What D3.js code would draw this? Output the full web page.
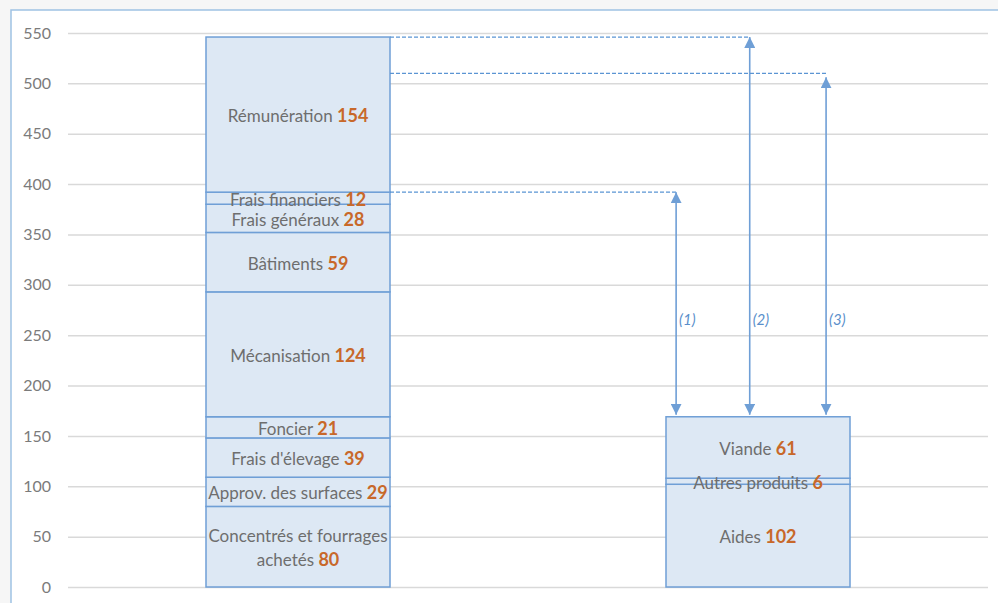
<!DOCTYPE html>
<html lang="fr">
<head>
<meta charset="utf-8">
<script src="https://cdn.jsdelivr.net/npm/d3@7"></script>
<style>
  html, body { margin: 0; padding: 0; background: #f6f6f6; }
  svg { display: block; }
  text { font-family: Lato, "Open Sans", sans-serif; }
</style>
</head>
<body>
<svg id="chart" width="998" height="603"></svg>
<script>
// Coûts de production (empilés, de bas en haut)
const chargeLabels = ["Concentrés et fourrages\nachetés", "Approv. des surfaces", "Frais d'élevage", "Foncier",
  "Mécanisation", "Bâtiments", "Frais généraux", "Frais financiers", "Rémunération"];
const chargeValues = [80, 29, 39, 21, 124, 59, 28, 12, 154];

// Produits (empilés, de bas en haut)
const produitLabels = ["Aides", "Autres produits", "Viande"];
const produitValues = [102, 6, 61];

const barNames = ["Coûts", "Produits"];
const yTicks = [0, 50, 100, 150, 200, 250, 300, 350, 400, 450, 500, 550];

// Écarts entre produits et niveaux de coût
const arrowLabels = ["(1)", "(2)", "(3)"];
const arrowTops = [392, 546, 510];

const svg = d3.select("#chart");
const W = 998, H = 603;
const margin = { top: 33, right: 10, bottom: 16, left: 68 };

const fillBar = "#dde8f4";
const strokeBar = "#6f9fd6";
const textGrey = "#6e6e6e";
const numOrange = "#c8682a";
const axisGrey = "#7b7b7b";

// cadre
svg.append("rect").attr("x", 11).attr("y", 10).attr("width", 1100).attr("height", 700)
  .attr("fill", "#ffffff").attr("stroke", "#9fc2e4").attr("stroke-width", 1.5);

const y = d3.scaleLinear().domain([0, 550]).range([H - margin.bottom, margin.top]);
const x = d3.scaleBand().domain(barNames).range([margin.left, W - margin.right])
  .paddingInner(0.6).paddingOuter(0.3);

// axe vertical + quadrillage
const yAxis = d3.axisLeft(y).tickValues(yTicks).tickFormat(d3.format("d"))
  .tickSize(-(W - margin.right - margin.left)).tickPadding(17);
const gAxis = svg.append("g").attr("transform", `translate(${margin.left},0)`).call(yAxis);
gAxis.select(".domain").remove();
gAxis.selectAll(".tick line").attr("stroke", "#d9d9d9").attr("stroke-width", 1.5);
gAxis.selectAll(".tick text").attr("fill", axisGrey).attr("font-size", 16)
  .attr("font-family", "Lato, 'Open Sans', sans-serif");

function stack(labels, values) {
  let acc = 0;
  return values.map((v, i) => {
    const d = { label: labels[i], value: v, y0: acc, y1: acc + v };
    acc += v;
    return d;
  });
}

const stacks = [stack(chargeLabels, chargeValues), stack(produitLabels, produitValues)];

stacks.forEach((segs, bi) => {
  const g = svg.append("g");
  const x0 = x(barNames[bi]);
  g.selectAll("rect").data(segs).join("rect")
    .attr("x", x0).attr("width", x.bandwidth())
    .attr("y", d => y(d.y1)).attr("height", d => y(d.y0) - y(d.y1))
    .attr("fill", fillBar).attr("stroke", strokeBar).attr("stroke-width", 1.5);

  g.selectAll("text").data(segs).join("text")
    .attr("text-anchor", "middle")
    .attr("font-size", 17)
    .each(function (d) {
      const lines = d.label.split("\n");
      const cy = (y(d.y0) + y(d.y1)) / 2;
      const lh = 24;
      const t = d3.select(this);
      lines.forEach((ln, li) => {
        const ty = cy + (li - (lines.length - 1) / 2) * lh;
        t.append("tspan").attr("x", x0 + x.bandwidth() / 2).attr("y", ty).attr("dy", "0.45em")
          .attr("fill", textGrey).text(ln + (li === lines.length - 1 ? " " : ""));
        if (li === lines.length - 1) {
          t.append("tspan").attr("fill", numOrange).attr("font-weight", "bold").attr("font-size", 18)
            .text(d.value);
        }
      });
    });
});

// flèches
const defs = svg.append("defs");
defs.append("marker").attr("id", "arr")
  .attr("viewBox", "0 0 10 10").attr("refX", 10).attr("refY", 5)
  .attr("markerUnits", "userSpaceOnUse").attr("markerWidth", 11).attr("markerHeight", 11)
  .attr("orient", "auto-start-reverse")
  .append("path").attr("d", "M0,0 L10,5 L0,10 Z").attr("fill", strokeBar);

const produitsTop = d3.sum(produitValues);
const arrowFrac = [0.055, 0.455, 0.87];
const xr = x(barNames[1]);
const leftEdge = x(barNames[0]) + x.bandwidth();

arrowTops.forEach((top, i) => {
  const ax = xr + x.bandwidth() * arrowFrac[i];
  // ligne pointillée de rappel
  svg.append("line").attr("x1", leftEdge).attr("x2", ax)
    .attr("y1", y(top)).attr("y2", y(top))
    .attr("stroke", "#5b95d3").attr("stroke-width", 1.3).attr("stroke-dasharray", "4,2");
  // flèche double
  svg.append("line").attr("x1", ax).attr("x2", ax)
    .attr("y1", y(produitsTop) - 2).attr("y2", y(top) + (i === 2 ? 4 : 0))
    .attr("stroke", strokeBar).attr("stroke-width", 1.6)
    .attr("marker-start", "url(#arr)").attr("marker-end", "url(#arr)");
  svg.append("text").attr("x", ax + 3).attr("y", 320).attr("dy", "0.35em")
    .attr("font-size", 15).attr("font-style", "italic").attr("fill", "#5a8fcb")
    .text(arrowLabels[i]);
});
</script>
</body>
</html>
